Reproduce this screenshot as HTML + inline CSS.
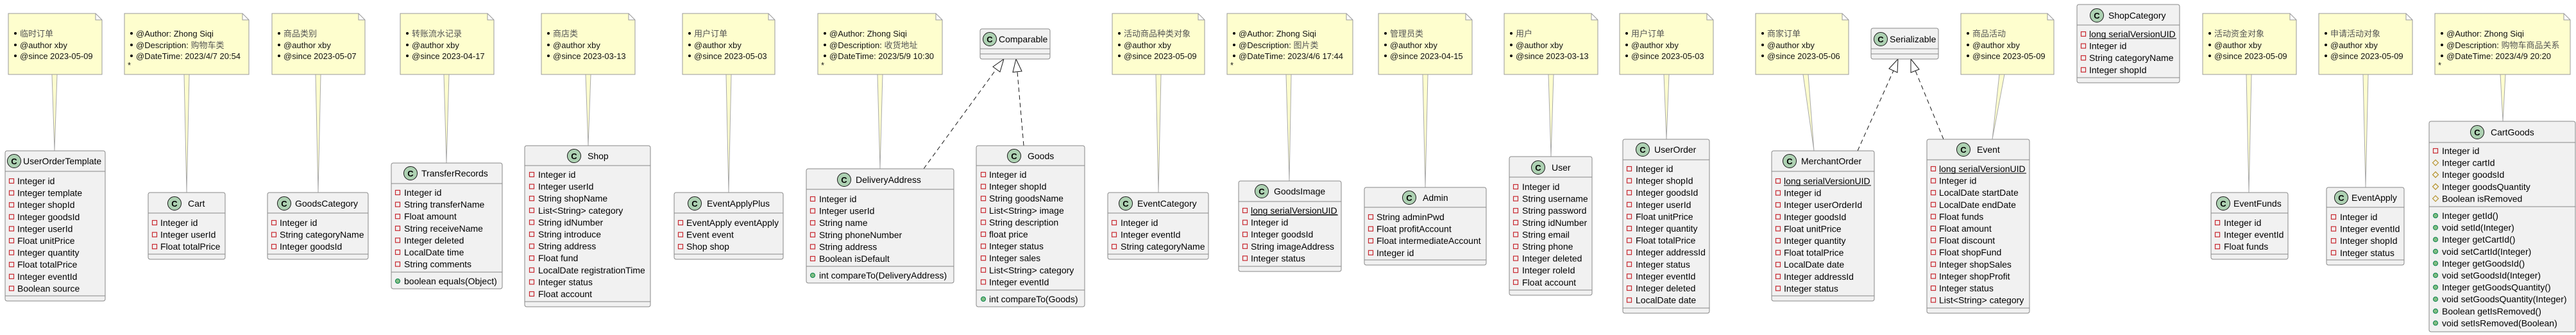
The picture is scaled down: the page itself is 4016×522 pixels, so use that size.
<!DOCTYPE html>
<html><head><meta charset="utf-8"><style>
html,body{margin:0;padding:0;background:#fff;}
svg{display:block;}
text{font-family:"Liberation Sans","Noto Sans CJK SC",sans-serif;font-size:14px;fill:#000;}
.n text{font-size:13px;fill:#111;}
.n .z{fill:#555;}
.box{fill:#F1F1F1;stroke:#888;stroke-width:1;}
.sep{stroke:#888;stroke-width:1;}
.note{fill:#FEFECE;stroke:#999;stroke-width:1;}
.cn{fill:#FEFECE;stroke:#aaa;stroke-width:1;}
.ci{fill:#ADD1B2;stroke:#181818;stroke-width:1;}
.ct{font-weight:bold;font-size:13px;}
.pr{fill:none;stroke:#C82930;stroke-width:1.2;}
.pu{fill:#84BE84;stroke:#038048;stroke-width:1;}
.pt{fill:none;stroke:#B38D22;stroke-width:1.1;}
.dash{stroke:#181818;stroke-width:1;stroke-dasharray:7,5;fill:none;}
.tri{fill:#fff;stroke:#181818;stroke-width:1;}
</style></head><body>
<svg width="4016" height="522" viewBox="0 0 4016 522" xmlns="http://www.w3.org/2000/svg">
<defs>
<rect id="pr" x="-3.5" y="-3.5" width="7" height="7" class="pr"/>
<circle id="pu" r="3.5" class="pu"/>
<polygon id="pt" points="0,-4.5 4.5,0 0,4.5 -4.5,0" class="pt"/>
</defs>

<!-- ================= NOTES ================= -->
<g class="n">
<!-- connectors -->
<polygon class="cn" points="81,116 89,116 85,235"/>
<polygon class="cn" points="287,116 295,116 291,300"/>
<polygon class="cn" points="492,116 500,116 496,300"/>
<polygon class="cn" points="692,116 700,116 696,254"/>
<polygon class="cn" points="913,116 921,116 917,227"/>
<polygon class="cn" points="1132,116 1140,116 1136,300"/>
<polygon class="cn" points="1368,116 1376,116 1372,263"/>
<polygon class="cn" points="1802,116 1810,116 1806,300"/>
<polygon class="cn" points="2005,116 2013,116 2010,282"/>
<polygon class="cn" points="2218,116 2226,116 2222,292"/>
<polygon class="cn" points="2414,116 2422,116 2418,244"/>
<polygon class="cn" points="2594,116 2602,116 2598,217"/>
<polygon class="cn" points="2811,116 2819,116 2828,235"/>
<polygon class="cn" points="3117,116 3125,116 3106,217"/>
<polygon class="cn" points="3502,116 3510,116 3506,300"/>
<polygon class="cn" points="3684,116 3692,116 3688,292"/>
<polygon class="cn" points="3898,116 3906,116 3902,189"/>

<!-- note 1 -->
<path class="note" d="M13,21 H149 L159,31 V116 H13 Z M149,21 V31 H159"/>
<circle cx="24" cy="52" r="2"/><text x="31" y="57" class="z">临时订单</text>
<circle cx="24" cy="70" r="2"/><text x="31" y="75">@author xby</text>
<circle cx="24" cy="87" r="2"/><text x="31" y="92">@since 2023-05-09</text>
<!-- note 2 -->
<path class="note" d="M194,21 H378 L388,31 V116 H194 Z M378,21 V31 H388"/>
<circle cx="205" cy="52" r="2"/><text x="212" y="57">@Author: Zhong Siqi</text>
<circle cx="205" cy="70" r="2"/><text x="212" y="75">@Description: <tspan class="z">购物车类</tspan></text>
<circle cx="205" cy="87" r="2"/><text x="212" y="92">@DateTime: 2023/4/7 20:54</text>
<text x="199" y="106">*</text>
<!-- note 3 -->
<path class="note" d="M424,21 H559 L569,31 V116 H424 Z M559,21 V31 H569"/>
<circle cx="435" cy="52" r="2"/><text x="442" y="57" class="z">商品类别</text>
<circle cx="435" cy="70" r="2"/><text x="442" y="75">@author xby</text>
<circle cx="435" cy="87" r="2"/><text x="442" y="92">@since 2023-05-07</text>
<!-- note 4 -->
<path class="note" d="M624,21 H760 L770,31 V116 H624 Z M760,21 V31 H770"/>
<circle cx="635" cy="52" r="2"/><text x="642" y="57" class="z">转账流水记录</text>
<circle cx="635" cy="70" r="2"/><text x="642" y="75">@author xby</text>
<circle cx="635" cy="87" r="2"/><text x="642" y="92">@since 2023-04-17</text>
<!-- note 5 -->
<path class="note" d="M844,21 H980 L990,31 V116 H844 Z M980,21 V31 H990"/>
<circle cx="855" cy="52" r="2"/><text x="862" y="57" class="z">商店类</text>
<circle cx="855" cy="70" r="2"/><text x="862" y="75">@author xby</text>
<circle cx="855" cy="87" r="2"/><text x="862" y="92">@since 2023-03-13</text>
<!-- note 6 -->
<path class="note" d="M1064,21 H1198 L1208,31 V116 H1064 Z M1198,21 V31 H1208"/>
<circle cx="1075" cy="52" r="2"/><text x="1082" y="57" class="z">用户订单</text>
<circle cx="1075" cy="70" r="2"/><text x="1082" y="75">@author xby</text>
<circle cx="1075" cy="87" r="2"/><text x="1082" y="92">@since 2023-05-03</text>
<!-- note 7 -->
<path class="note" d="M1275,21 H1459 L1469,31 V116 H1275 Z M1459,21 V31 H1469"/>
<circle cx="1286" cy="52" r="2"/><text x="1293" y="57">@Author: Zhong Siqi</text>
<circle cx="1286" cy="70" r="2"/><text x="1293" y="75">@Description: <tspan class="z">收货地址</tspan></text>
<circle cx="1286" cy="87" r="2"/><text x="1293" y="92">@DateTime: 2023/5/9 10:30</text>
<text x="1280" y="106">*</text>
<!-- note 8 -->
<path class="note" d="M1734,21 H1868 L1878,31 V116 H1734 Z M1868,21 V31 H1878"/>
<circle cx="1745" cy="52" r="2"/><text x="1752" y="57" class="z">活动商品种类对象</text>
<circle cx="1745" cy="70" r="2"/><text x="1752" y="75">@author xby</text>
<circle cx="1745" cy="87" r="2"/><text x="1752" y="92">@since 2023-05-09</text>
<!-- note 9 -->
<path class="note" d="M1913,21 H2099 L2109,31 V116 H1913 Z M2099,21 V31 H2109"/>
<circle cx="1924" cy="52" r="2"/><text x="1931" y="57">@Author: Zhong Siqi</text>
<circle cx="1924" cy="70" r="2"/><text x="1931" y="75">@Description: <tspan class="z">图片类</tspan></text>
<circle cx="1924" cy="87" r="2"/><text x="1931" y="92">@DateTime: 2023/4/6 17:44</text>
<text x="1918" y="106">*</text>
<!-- note 10 -->
<path class="note" d="M2149,21 H2285 L2295,31 V116 H2149 Z M2285,21 V31 H2295"/>
<circle cx="2160" cy="52" r="2"/><text x="2167" y="57" class="z">管理员类</text>
<circle cx="2160" cy="70" r="2"/><text x="2167" y="75">@author xby</text>
<circle cx="2160" cy="87" r="2"/><text x="2167" y="92">@since 2023-04-15</text>
<!-- note 11 -->
<path class="note" d="M2345,21 H2481 L2491,31 V116 H2345 Z M2481,21 V31 H2491"/>
<circle cx="2356" cy="52" r="2"/><text x="2363" y="57" class="z">用户</text>
<circle cx="2356" cy="70" r="2"/><text x="2363" y="75">@author xby</text>
<circle cx="2356" cy="87" r="2"/><text x="2363" y="92">@since 2023-03-13</text>
<!-- note 12 -->
<path class="note" d="M2525,21 H2661 L2671,31 V116 H2525 Z M2661,21 V31 H2671"/>
<circle cx="2536" cy="52" r="2"/><text x="2543" y="57" class="z">用户订单</text>
<circle cx="2536" cy="70" r="2"/><text x="2543" y="75">@author xby</text>
<circle cx="2536" cy="87" r="2"/><text x="2543" y="92">@since 2023-05-03</text>
<!-- note 13 -->
<path class="note" d="M2737,21 H2872 L2882,31 V116 H2737 Z M2872,21 V31 H2882"/>
<circle cx="2748" cy="52" r="2"/><text x="2755" y="57" class="z">商家订单</text>
<circle cx="2748" cy="70" r="2"/><text x="2755" y="75">@author xby</text>
<circle cx="2748" cy="87" r="2"/><text x="2755" y="92">@since 2023-05-06</text>
<!-- note 14 -->
<path class="note" d="M3057,21 H3192 L3202,31 V116 H3057 Z M3192,21 V31 H3202"/>
<circle cx="3068" cy="52" r="2"/><text x="3075" y="57" class="z">商品活动</text>
<circle cx="3068" cy="70" r="2"/><text x="3075" y="75">@author xby</text>
<circle cx="3068" cy="87" r="2"/><text x="3075" y="92">@since 2023-05-09</text>
<!-- note 15 -->
<path class="note" d="M3434,21 H3570 L3580,31 V116 H3434 Z M3570,21 V31 H3580"/>
<circle cx="3445" cy="52" r="2"/><text x="3452" y="57" class="z">活动资金对象</text>
<circle cx="3445" cy="70" r="2"/><text x="3452" y="75">@author xby</text>
<circle cx="3445" cy="87" r="2"/><text x="3452" y="92">@since 2023-05-09</text>
<!-- note 16 -->
<path class="note" d="M3615,21 H3751 L3761,31 V116 H3615 Z M3751,21 V31 H3761"/>
<circle cx="3626" cy="52" r="2"/><text x="3633" y="57" class="z">申请活动对象</text>
<circle cx="3626" cy="70" r="2"/><text x="3633" y="75">@author xby</text>
<circle cx="3626" cy="87" r="2"/><text x="3633" y="92">@since 2023-05-09</text>
<!-- note 17 -->
<path class="note" d="M3796,21 H3997 L4007,31 V116 H3796 Z M3997,21 V31 H4007"/>
<circle cx="3807" cy="52" r="2"/><text x="3814" y="57">@Author: Zhong Siqi</text>
<circle cx="3807" cy="70" r="2"/><text x="3814" y="75">@Description: <tspan class="z">购物车商品关系</tspan></text>
<circle cx="3807" cy="87" r="2"/><text x="3814" y="92">@DateTime: 2023/4/9 20:20</text>
<text x="3801" y="106">*</text>
</g>

<!-- ================= INHERITANCE ================= -->
<line class="dash" x1="1440" y1="263" x2="1553" y2="108"/>
<polygon class="tri" points="1565,92 1559,112 1548,104"/>
<line class="dash" x1="1596" y1="227" x2="1586" y2="112"/>
<polygon class="tri" points="1584,92 1593,111 1579,112.5"/>
<line class="dash" x1="2896" y1="235" x2="2952" y2="110"/>
<polygon class="tri" points="2959,92 2958,113 2945,107"/>
<line class="dash" x1="3030" y1="217" x2="2986" y2="110"/>
<polygon class="tri" points="2979,92 2992,108 2979,113"/>

<!-- ================= CLASSES ================= -->
<!-- UserOrderTemplate -->
<rect class="box" x="8" y="235" width="156" height="234" rx="3"/>
<line class="sep" x1="8" y1="267" x2="164" y2="267"/><line class="sep" x1="8" y1="461" x2="164" y2="461"/>
<circle class="ci" cx="22" cy="251" r="10.5"/><text class="ct" x="22" y="256" text-anchor="middle">C</text>
<text x="36" y="256">UserOrderTemplate</text>
<use href="#pr" x="18" y="282"/><text x="27" y="287">Integer id</text>
<use href="#pr" x="18" y="300.6"/><text x="27" y="305.6">Integer template</text>
<use href="#pr" x="18" y="319.2"/><text x="27" y="324.2">Integer shopId</text>
<use href="#pr" x="18" y="337.8"/><text x="27" y="342.8">Integer goodsId</text>
<use href="#pr" x="18" y="356.4"/><text x="27" y="361.4">Integer userId</text>
<use href="#pr" x="18" y="375"/><text x="27" y="380">Float unitPrice</text>
<use href="#pr" x="18" y="393.6"/><text x="27" y="398.6">Integer quantity</text>
<use href="#pr" x="18" y="412.2"/><text x="27" y="417.2">Float totalPrice</text>
<use href="#pr" x="18" y="430.8"/><text x="27" y="435.8">Integer eventId</text>
<use href="#pr" x="18" y="449.4"/><text x="27" y="454.4">Boolean source</text>

<!-- Cart -->
<rect class="box" x="231" y="300" width="120" height="104" rx="3"/>
<line class="sep" x1="231" y1="332" x2="351" y2="332"/><line class="sep" x1="231" y1="396" x2="351" y2="396"/>
<circle class="ci" cx="272" cy="317" r="10.5"/><text class="ct" x="272" y="322" text-anchor="middle">C</text>
<text x="293" y="322">Cart</text>
<use href="#pr" x="241" y="347"/><text x="250" y="352">Integer id</text>
<use href="#pr" x="241" y="365.6"/><text x="250" y="370.6">Integer userId</text>
<use href="#pr" x="241" y="384.2"/><text x="250" y="389.2">Float totalPrice</text>

<!-- GoodsCategory -->
<rect class="box" x="417" y="300" width="157" height="104" rx="3"/>
<line class="sep" x1="417" y1="332" x2="574" y2="332"/><line class="sep" x1="417" y1="396" x2="574" y2="396"/>
<circle class="ci" cx="443" cy="317" r="10.5"/><text class="ct" x="443" y="322" text-anchor="middle">C</text>
<text x="460" y="322">GoodsCategory</text>
<use href="#pr" x="427" y="347"/><text x="436" y="352">Integer id</text>
<use href="#pr" x="427" y="365.6"/><text x="436" y="370.6">String categoryName</text>
<use href="#pr" x="427" y="384.2"/><text x="436" y="389.2">Integer goodsId</text>

<!-- TransferRecords -->
<rect class="box" x="610" y="254" width="173" height="196" rx="3"/>
<line class="sep" x1="610" y1="286" x2="783" y2="286"/><line class="sep" x1="610" y1="424" x2="783" y2="424"/>
<circle class="ci" cx="640" cy="270" r="10.5"/><text class="ct" x="640" y="275" text-anchor="middle">C</text>
<text x="657" y="275">TransferRecords</text>
<use href="#pr" x="620" y="300"/><text x="630" y="305">Integer id</text>
<use href="#pr" x="620" y="318.6"/><text x="630" y="323.6">String transferName</text>
<use href="#pr" x="620" y="337.2"/><text x="630" y="342.2">Float amount</text>
<use href="#pr" x="620" y="355.8"/><text x="630" y="360.8">String receiveName</text>
<use href="#pr" x="620" y="374.4"/><text x="630" y="379.4">Integer deleted</text>
<use href="#pr" x="620" y="393"/><text x="630" y="398">LocalDate time</text>
<use href="#pr" x="620" y="411.6"/><text x="630" y="416.6">String comments</text>
<use href="#pu" x="620" y="438"/><text x="630" y="443">boolean equals(Object)</text>

<!-- Shop -->
<rect class="box" x="818" y="227" width="196" height="251" rx="3"/>
<line class="sep" x1="818" y1="258" x2="1014" y2="258"/><line class="sep" x1="818" y1="470" x2="1014" y2="470"/>
<circle class="ci" cx="895" cy="243" r="10.5"/><text class="ct" x="895" y="248" text-anchor="middle">C</text>
<text x="916" y="248">Shop</text>
<use href="#pr" x="829" y="272"/><text x="839" y="277">Integer id</text>
<use href="#pr" x="829" y="290.6"/><text x="839" y="295.6">Integer userId</text>
<use href="#pr" x="829" y="309.2"/><text x="839" y="314.2">String shopName</text>
<use href="#pr" x="829" y="327.8"/><text x="839" y="332.8">List&lt;String&gt; category</text>
<use href="#pr" x="829" y="346.4"/><text x="839" y="351.4">String idNumber</text>
<use href="#pr" x="829" y="365"/><text x="839" y="370">String introduce</text>
<use href="#pr" x="829" y="383.6"/><text x="839" y="388.6">String address</text>
<use href="#pr" x="829" y="402.2"/><text x="839" y="407.2">Float fund</text>
<use href="#pr" x="829" y="420.8"/><text x="839" y="425.8">LocalDate registrationTime</text>
<use href="#pr" x="829" y="439.4"/><text x="839" y="444.4">Integer status</text>
<use href="#pr" x="829" y="458"/><text x="839" y="463">Float account</text>

<!-- EventApplyPlus -->
<rect class="box" x="1051" y="300" width="170" height="104" rx="3"/>
<line class="sep" x1="1051" y1="332" x2="1221" y2="332"/><line class="sep" x1="1051" y1="396" x2="1221" y2="396"/>
<circle class="ci" cx="1083" cy="317" r="10.5"/><text class="ct" x="1083" y="322" text-anchor="middle">C</text>
<text x="1102" y="322">EventApplyPlus</text>
<use href="#pr" x="1061" y="347"/><text x="1070" y="352">EventApply eventApply</text>
<use href="#pr" x="1061" y="365.6"/><text x="1070" y="370.6">Event event</text>
<use href="#pr" x="1061" y="384.2"/><text x="1070" y="389.2">Shop shop</text>

<!-- DeliveryAddress -->
<rect class="box" x="1257" y="263" width="230" height="178" rx="3"/>
<line class="sep" x1="1257" y1="295" x2="1487" y2="295"/><line class="sep" x1="1257" y1="415" x2="1487" y2="415"/>
<circle class="ci" cx="1316" cy="280" r="10.5"/><text class="ct" x="1316" y="285" text-anchor="middle">C</text>
<text x="1334" y="285">DeliveryAddress</text>
<use href="#pr" x="1267" y="310"/><text x="1277" y="315">Integer id</text>
<use href="#pr" x="1267" y="328.6"/><text x="1277" y="333.6">Integer userId</text>
<use href="#pr" x="1267" y="347.2"/><text x="1277" y="352.2">String name</text>
<use href="#pr" x="1267" y="365.8"/><text x="1277" y="370.8">String phoneNumber</text>
<use href="#pr" x="1267" y="384.4"/><text x="1277" y="389.4">String address</text>
<use href="#pr" x="1267" y="403"/><text x="1277" y="408">Boolean isDefault</text>
<use href="#pu" x="1267" y="429"/><text x="1277" y="434">int compareTo(DeliveryAddress)</text>

<!-- Comparable -->
<rect class="box" x="1528" y="45" width="109" height="47" rx="3"/>
<line class="sep" x1="1528" y1="76" x2="1637" y2="76"/><line class="sep" x1="1528" y1="84" x2="1637" y2="84"/>
<circle class="ci" cx="1543" cy="61" r="10.5"/><text class="ct" x="1543" y="66" text-anchor="middle">C</text>
<text x="1557" y="66">Comparable</text>

<!-- Goods -->
<rect class="box" x="1522" y="227" width="169" height="251" rx="3"/>
<line class="sep" x1="1522" y1="258" x2="1691" y2="258"/><line class="sep" x1="1522" y1="452" x2="1691" y2="452"/>
<circle class="ci" cx="1581" cy="243" r="10.5"/><text class="ct" x="1581" y="248" text-anchor="middle">C</text>
<text x="1602" y="248">Goods</text>
<use href="#pr" x="1533" y="272"/><text x="1542" y="277">Integer id</text>
<use href="#pr" x="1533" y="290.6"/><text x="1542" y="295.6">Integer shopId</text>
<use href="#pr" x="1533" y="309.2"/><text x="1542" y="314.2">String goodsName</text>
<use href="#pr" x="1533" y="327.8"/><text x="1542" y="332.8">List&lt;String&gt; image</text>
<use href="#pr" x="1533" y="346.4"/><text x="1542" y="351.4">String description</text>
<use href="#pr" x="1533" y="365"/><text x="1542" y="370">float price</text>
<use href="#pr" x="1533" y="383.6"/><text x="1542" y="388.6">Integer status</text>
<use href="#pr" x="1533" y="402.2"/><text x="1542" y="407.2">Integer sales</text>
<use href="#pr" x="1533" y="420.8"/><text x="1542" y="425.8">List&lt;String&gt; category</text>
<use href="#pr" x="1533" y="439.4"/><text x="1542" y="444.4">Integer eventId</text>
<use href="#pu" x="1533" y="466"/><text x="1542" y="471">int compareTo(Goods)</text>

<!-- EventCategory -->
<rect class="box" x="1727" y="300" width="157" height="104" rx="3"/>
<line class="sep" x1="1727" y1="332" x2="1884" y2="332"/><line class="sep" x1="1727" y1="396" x2="1884" y2="396"/>
<circle class="ci" cx="1755" cy="317" r="10.5"/><text class="ct" x="1755" y="322" text-anchor="middle">C</text>
<text x="1773" y="322">EventCategory</text>
<use href="#pr" x="1737" y="347"/><text x="1747" y="352">Integer id</text>
<use href="#pr" x="1737" y="365.6"/><text x="1747" y="370.6">Integer eventId</text>
<use href="#pr" x="1737" y="384.2"/><text x="1747" y="389.2">String categoryName</text>

<!-- GoodsImage -->
<rect class="box" x="1931" y="282" width="160" height="141" rx="3"/>
<line class="sep" x1="1931" y1="314" x2="2091" y2="314"/><line class="sep" x1="1931" y1="415" x2="2091" y2="415"/>
<circle class="ci" cx="1967" cy="298" r="10.5"/><text class="ct" x="1967" y="303" text-anchor="middle">C</text>
<text x="1986" y="303">GoodsImage</text>
<use href="#pr" x="1941" y="328"/><text x="1950" y="333" text-decoration="underline">long serialVersionUID</text>
<line x1="1950" y1="335" x2="2086" y2="335" stroke="#000" stroke-width="1"/>
<use href="#pr" x="1941" y="346.6"/><text x="1950" y="351.6">Integer id</text>
<use href="#pr" x="1941" y="365.2"/><text x="1950" y="370.2">Integer goodsId</text>
<use href="#pr" x="1941" y="383.8"/><text x="1950" y="388.8">String imageAddress</text>
<use href="#pr" x="1941" y="402.4"/><text x="1950" y="407.4">Integer status</text>

<!-- Admin -->
<rect class="box" x="2127" y="292" width="190" height="121" rx="3"/>
<line class="sep" x1="2127" y1="323" x2="2317" y2="323"/><line class="sep" x1="2127" y1="405" x2="2317" y2="405"/>
<circle class="ci" cx="2197" cy="308" r="10.5"/><text class="ct" x="2197" y="313" text-anchor="middle">C</text>
<text x="2218" y="313">Admin</text>
<use href="#pr" x="2137" y="338"/><text x="2146" y="343">String adminPwd</text>
<use href="#pr" x="2137" y="356.6"/><text x="2146" y="361.6">Float profitAccount</text>
<use href="#pr" x="2137" y="375.2"/><text x="2146" y="380.2">Float intermediateAccount</text>
<use href="#pr" x="2137" y="393.8"/><text x="2146" y="398.8">Integer id</text>

<!-- User -->
<rect class="box" x="2353" y="244" width="129" height="216" rx="3"/>
<line class="sep" x1="2353" y1="276" x2="2482" y2="276"/><line class="sep" x1="2353" y1="452" x2="2482" y2="452"/>
<circle class="ci" cx="2398" cy="261" r="10.5"/><text class="ct" x="2398" y="266" text-anchor="middle">C</text>
<text x="2419" y="266">User</text>
<use href="#pr" x="2363" y="291"/><text x="2373" y="296">Integer id</text>
<use href="#pr" x="2363" y="309.6"/><text x="2373" y="314.6">String username</text>
<use href="#pr" x="2363" y="328.2"/><text x="2373" y="333.2">String password</text>
<use href="#pr" x="2363" y="346.8"/><text x="2373" y="351.8">String idNumber</text>
<use href="#pr" x="2363" y="365.4"/><text x="2373" y="370.4">String email</text>
<use href="#pr" x="2363" y="384"/><text x="2373" y="389">String phone</text>
<use href="#pr" x="2363" y="402.6"/><text x="2373" y="407.6">Integer deleted</text>
<use href="#pr" x="2363" y="421.2"/><text x="2373" y="426.2">Integer roleId</text>
<use href="#pr" x="2363" y="439.8"/><text x="2373" y="444.8">Float account</text>

<!-- UserOrder -->
<rect class="box" x="2530" y="217" width="135" height="271" rx="3"/>
<line class="sep" x1="2530" y1="249" x2="2665" y2="249"/><line class="sep" x1="2530" y1="480" x2="2665" y2="480"/>
<circle class="ci" cx="2561" cy="233" r="10.5"/><text class="ct" x="2561" y="238" text-anchor="middle">C</text>
<text x="2579" y="238">UserOrder</text>
<use href="#pr" x="2540" y="263"/><text x="2550" y="268">Integer id</text>
<use href="#pr" x="2540" y="281.6"/><text x="2550" y="286.6">Integer shopId</text>
<use href="#pr" x="2540" y="300.2"/><text x="2550" y="305.2">Integer goodsId</text>
<use href="#pr" x="2540" y="318.8"/><text x="2550" y="323.8">Integer userId</text>
<use href="#pr" x="2540" y="337.4"/><text x="2550" y="342.4">Float unitPrice</text>
<use href="#pr" x="2540" y="356"/><text x="2550" y="361">Integer quantity</text>
<use href="#pr" x="2540" y="374.6"/><text x="2550" y="379.6">Float totalPrice</text>
<use href="#pr" x="2540" y="393.2"/><text x="2550" y="398.2">Integer addressId</text>
<use href="#pr" x="2540" y="411.8"/><text x="2550" y="416.8">Integer status</text>
<use href="#pr" x="2540" y="430.4"/><text x="2550" y="435.4">Integer eventId</text>
<use href="#pr" x="2540" y="449"/><text x="2550" y="454">Integer deleted</text>
<use href="#pr" x="2540" y="467.6"/><text x="2550" y="472.6">LocalDate date</text>

<!-- MerchantOrder -->
<rect class="box" x="2762" y="235" width="160" height="234" rx="3"/>
<line class="sep" x1="2762" y1="267" x2="2922" y2="267"/><line class="sep" x1="2762" y1="461" x2="2922" y2="461"/>
<circle class="ci" cx="2790" cy="251" r="10.5"/><text class="ct" x="2790" y="256" text-anchor="middle">C</text>
<text x="2808" y="256">MerchantOrder</text>
<use href="#pr" x="2772" y="282"/><text x="2781" y="287">long serialVersionUID</text>
<line x1="2781" y1="289" x2="2917" y2="289" stroke="#000" stroke-width="1"/>
<use href="#pr" x="2772" y="300.6"/><text x="2781" y="305.6">Integer id</text>
<use href="#pr" x="2772" y="319.2"/><text x="2781" y="324.2">Integer userOrderId</text>
<use href="#pr" x="2772" y="337.8"/><text x="2781" y="342.8">Integer goodsId</text>
<use href="#pr" x="2772" y="356.4"/><text x="2781" y="361.4">Float unitPrice</text>
<use href="#pr" x="2772" y="375"/><text x="2781" y="380">Integer quantity</text>
<use href="#pr" x="2772" y="393.6"/><text x="2781" y="398.6">Float totalPrice</text>
<use href="#pr" x="2772" y="412.2"/><text x="2781" y="417.2">LocalDate date</text>
<use href="#pr" x="2772" y="430.8"/><text x="2781" y="435.8">Integer addressId</text>
<use href="#pr" x="2772" y="449.4"/><text x="2781" y="454.4">Integer status</text>

<!-- Serializable -->
<rect class="box" x="2917" y="44" width="105" height="48" rx="3"/>
<line class="sep" x1="2917" y1="76" x2="3022" y2="76"/><line class="sep" x1="2917" y1="84" x2="3022" y2="84"/>
<circle class="ci" cx="2932" cy="61" r="10.5"/><text class="ct" x="2932" y="66" text-anchor="middle">C</text>
<text x="2946" y="66">Serializable</text>

<!-- Event -->
<rect class="box" x="3004" y="217" width="160" height="271" rx="3"/>
<line class="sep" x1="3004" y1="249" x2="3164" y2="249"/><line class="sep" x1="3004" y1="480" x2="3164" y2="480"/>
<circle class="ci" cx="3061" cy="233" r="10.5"/><text class="ct" x="3061" y="238" text-anchor="middle">C</text>
<text x="3082" y="238">Event</text>
<use href="#pr" x="3014" y="263"/><text x="3023" y="268">long serialVersionUID</text>
<line x1="3023" y1="270" x2="3159" y2="270" stroke="#000" stroke-width="1"/>
<use href="#pr" x="3014" y="281.6"/><text x="3023" y="286.6">Integer id</text>
<use href="#pr" x="3014" y="300.2"/><text x="3023" y="305.2">LocalDate startDate</text>
<use href="#pr" x="3014" y="318.8"/><text x="3023" y="323.8">LocalDate endDate</text>
<use href="#pr" x="3014" y="337.4"/><text x="3023" y="342.4">Float funds</text>
<use href="#pr" x="3014" y="356"/><text x="3023" y="361">Float amount</text>
<use href="#pr" x="3014" y="374.6"/><text x="3023" y="379.6">Float discount</text>
<use href="#pr" x="3014" y="393.2"/><text x="3023" y="398.2">Float shopFund</text>
<use href="#pr" x="3014" y="411.8"/><text x="3023" y="416.8">Integer shopSales</text>
<use href="#pr" x="3014" y="430.4"/><text x="3023" y="435.4">Integer shopProfit</text>
<use href="#pr" x="3014" y="449"/><text x="3023" y="454">Integer status</text>
<use href="#pr" x="3014" y="467.6"/><text x="3023" y="472.6">List&lt;String&gt; category</text>

<!-- ShopCategory -->
<rect class="box" x="3238" y="7" width="160" height="122" rx="3"/>
<line class="sep" x1="3238" y1="39" x2="3398" y2="39"/><line class="sep" x1="3238" y1="121" x2="3398" y2="121"/>
<circle class="ci" cx="3269" cy="24" r="10.5"/><text class="ct" x="3269" y="29" text-anchor="middle">C</text>
<text x="3287" y="29">ShopCategory</text>
<use href="#pr" x="3248" y="53"/><text x="3257" y="58">long serialVersionUID</text>
<line x1="3257" y1="60" x2="3393" y2="60" stroke="#000" stroke-width="1"/>
<use href="#pr" x="3248" y="71.6"/><text x="3257" y="76.6">Integer id</text>
<use href="#pr" x="3248" y="90.2"/><text x="3257" y="95.2">String categoryName</text>
<use href="#pr" x="3248" y="108.8"/><text x="3257" y="113.8">Integer shopId</text>

<!-- EventFunds -->
<rect class="box" x="3447" y="300" width="120" height="104" rx="3"/>
<line class="sep" x1="3447" y1="332" x2="3567" y2="332"/><line class="sep" x1="3447" y1="396" x2="3567" y2="396"/>
<circle class="ci" cx="3466" cy="317" r="10.5"/><text class="ct" x="3466" y="322" text-anchor="middle">C</text>
<text x="3482" y="322">EventFunds</text>
<use href="#pr" x="3457" y="347"/><text x="3467" y="352">Integer id</text>
<use href="#pr" x="3457" y="365.6"/><text x="3467" y="370.6">Integer eventId</text>
<use href="#pr" x="3457" y="384.2"/><text x="3467" y="389.2">Float funds</text>

<!-- EventApply -->
<rect class="box" x="3627" y="292" width="121" height="121" rx="3"/>
<line class="sep" x1="3627" y1="323" x2="3748" y2="323"/><line class="sep" x1="3627" y1="405" x2="3748" y2="405"/>
<circle class="ci" cx="3650" cy="308" r="10.5"/><text class="ct" x="3650" y="313" text-anchor="middle">C</text>
<text x="3666" y="313">EventApply</text>
<use href="#pr" x="3638" y="338"/><text x="3648" y="343">Integer id</text>
<use href="#pr" x="3638" y="356.6"/><text x="3648" y="361.6">Integer eventId</text>
<use href="#pr" x="3638" y="375.2"/><text x="3648" y="380.2">Integer shopId</text>
<use href="#pr" x="3638" y="393.8"/><text x="3648" y="398.8">Integer status</text>

<!-- CartGoods -->
<rect class="box" x="3787" y="189" width="228" height="328" rx="3"/>
<line class="sep" x1="3787" y1="222" x2="4015" y2="222"/><line class="sep" x1="3787" y1="322" x2="4015" y2="322"/>
<circle class="ci" cx="3862" cy="206" r="10.5"/><text class="ct" x="3862" y="211" text-anchor="middle">C</text>
<text x="3883" y="211">CartGoods</text>
<use href="#pr" x="3797" y="235"/><text x="3807" y="240">Integer id</text>
<use href="#pt" x="3797" y="253.6"/><text x="3807" y="258.6">Integer cartId</text>
<use href="#pt" x="3797" y="272.2"/><text x="3807" y="277.2">Integer goodsId</text>
<use href="#pt" x="3797" y="290.8"/><text x="3807" y="295.8">Integer goodsQuantity</text>
<use href="#pt" x="3797" y="309.4"/><text x="3807" y="314.4">Boolean isRemoved</text>
<use href="#pu" x="3797" y="336"/><text x="3807" y="341">Integer getId()</text>
<use href="#pu" x="3797" y="354.6"/><text x="3807" y="359.6">void setId(Integer)</text>
<use href="#pu" x="3797" y="373.2"/><text x="3807" y="378.2">Integer getCartId()</text>
<use href="#pu" x="3797" y="391.8"/><text x="3807" y="396.8">void setCartId(Integer)</text>
<use href="#pu" x="3797" y="410.4"/><text x="3807" y="415.4">Integer getGoodsId()</text>
<use href="#pu" x="3797" y="429"/><text x="3807" y="434">void setGoodsId(Integer)</text>
<use href="#pu" x="3797" y="447.6"/><text x="3807" y="452.6">Integer getGoodsQuantity()</text>
<use href="#pu" x="3797" y="466.2"/><text x="3807" y="471.2">void setGoodsQuantity(Integer)</text>
<use href="#pu" x="3797" y="484.8"/><text x="3807" y="489.8">Boolean getIsRemoved()</text>
<use href="#pu" x="3797" y="503.4"/><text x="3807" y="508.4">void setIsRemoved(Boolean)</text>
</svg>
</body></html>
